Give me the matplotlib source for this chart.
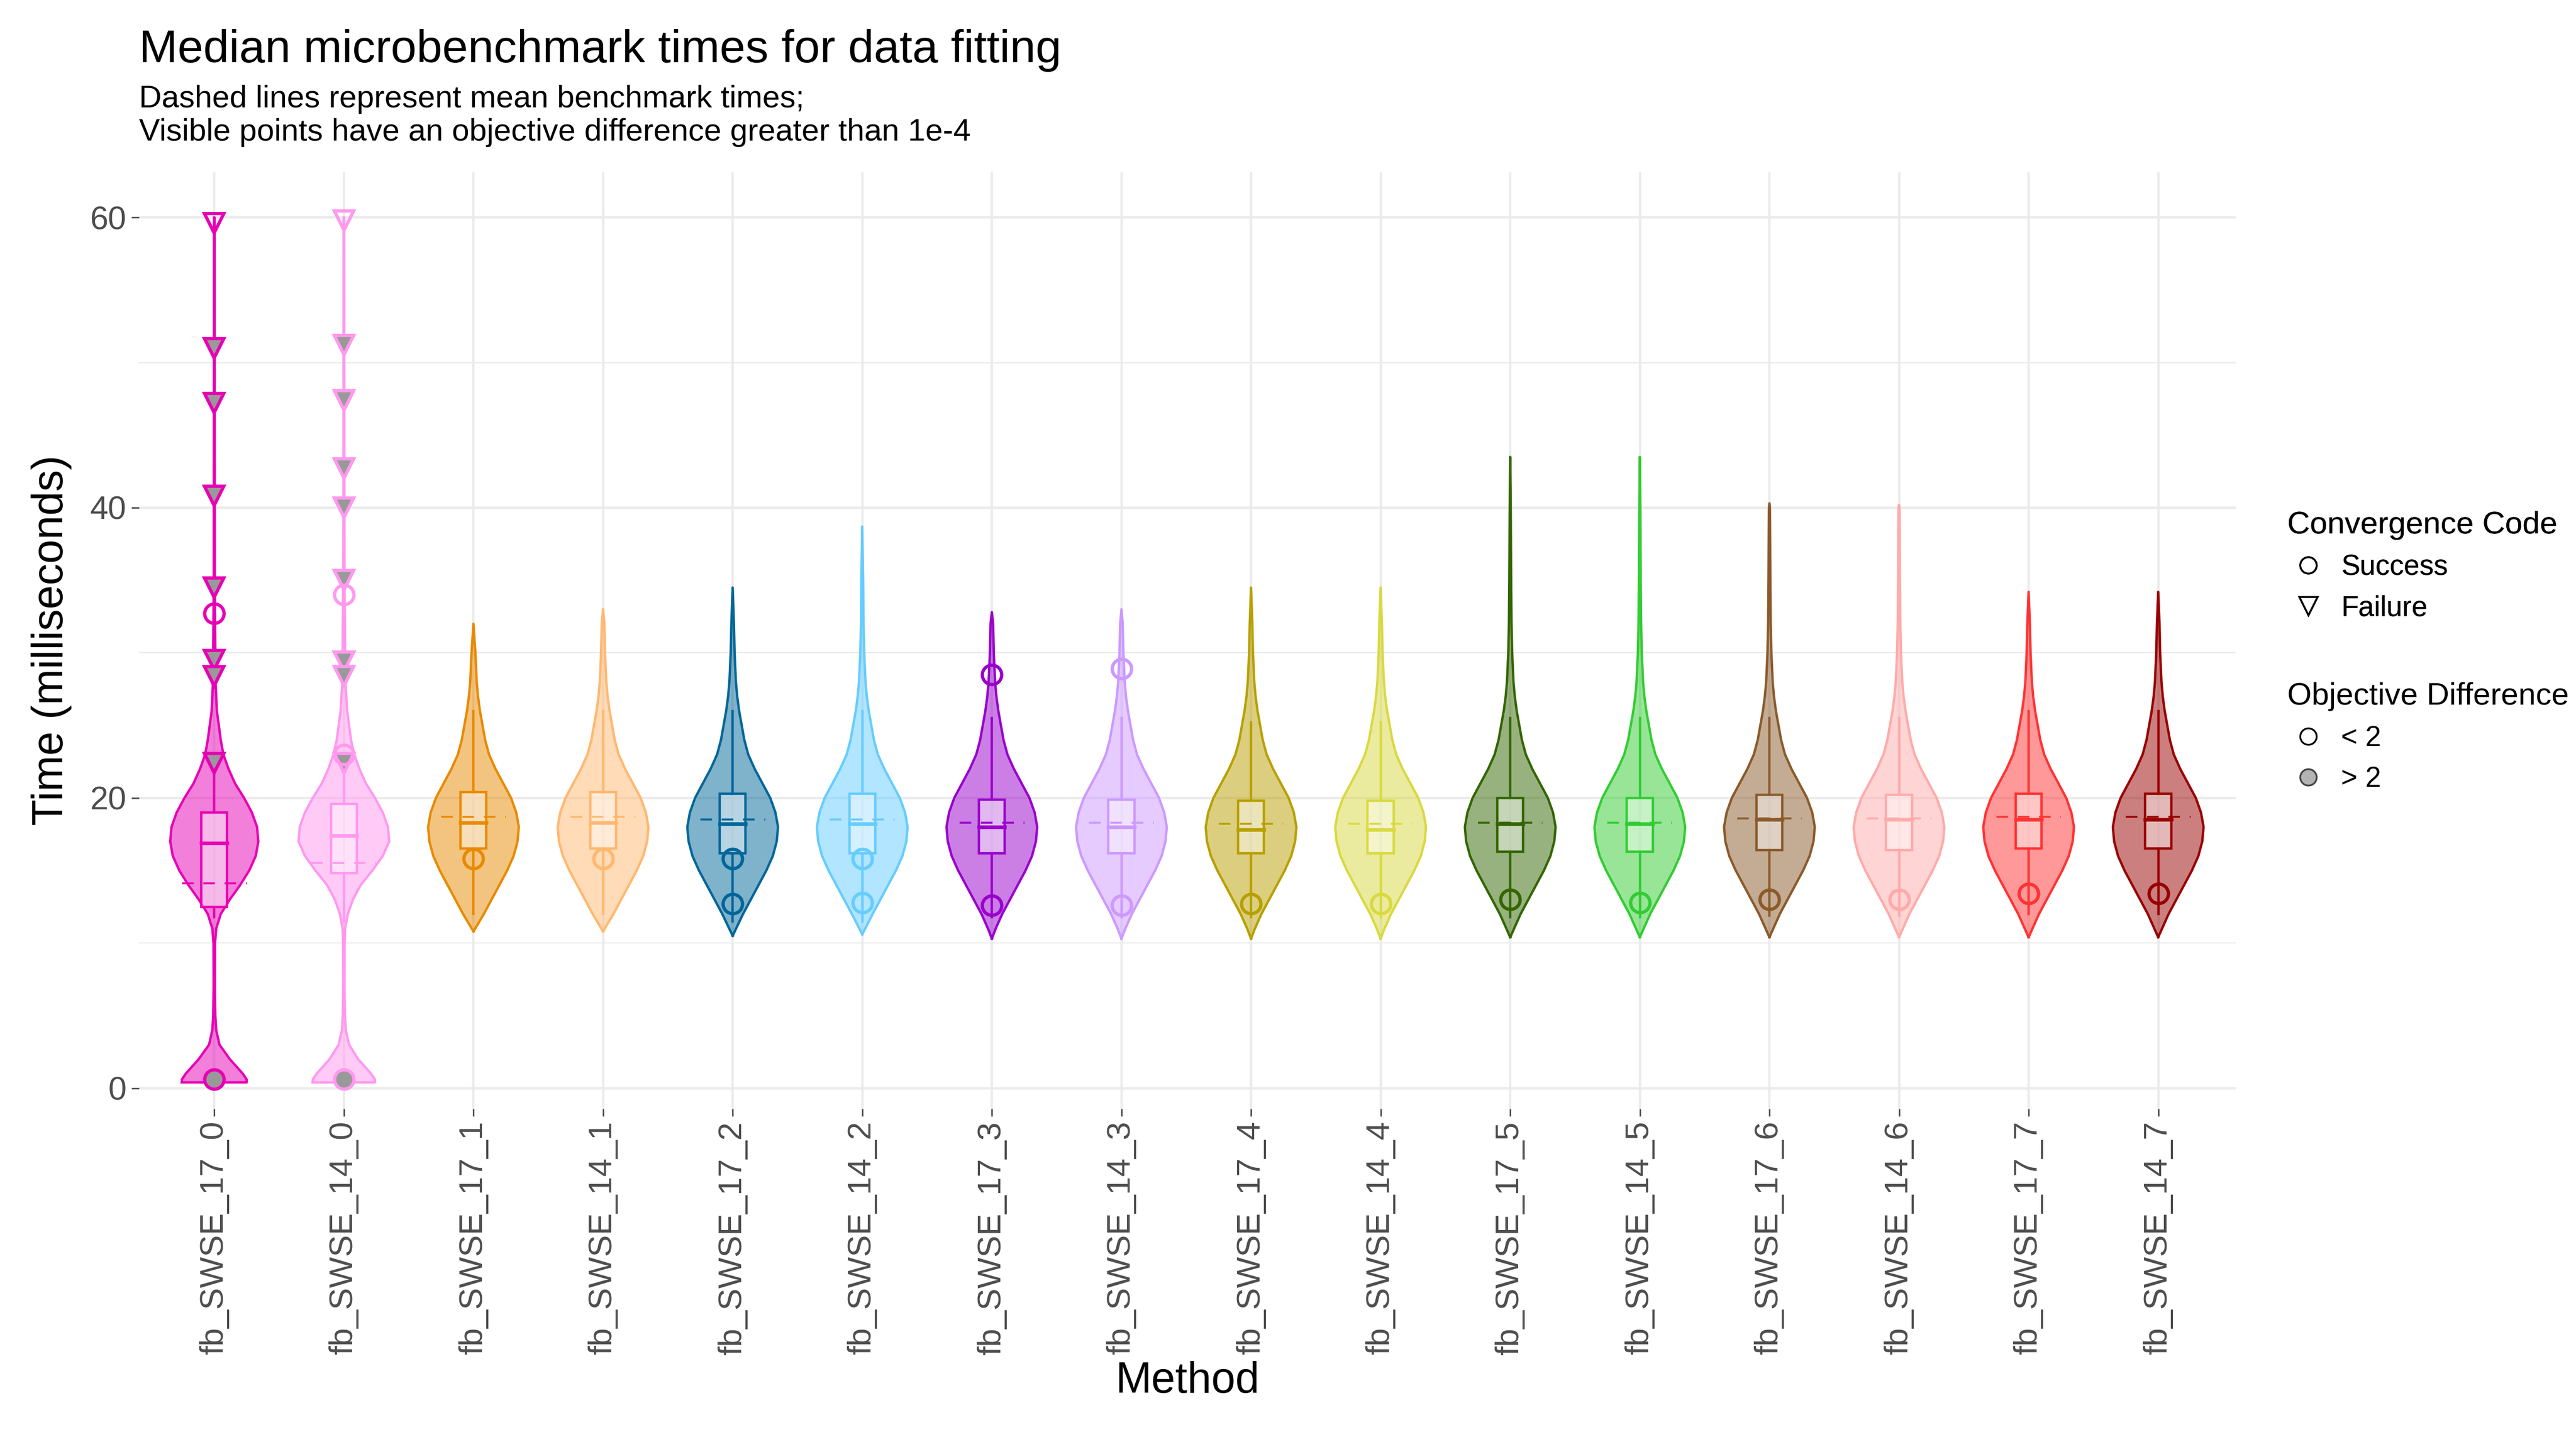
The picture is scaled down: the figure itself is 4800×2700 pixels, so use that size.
import matplotlib
matplotlib.use("Agg")
import matplotlib.pyplot as plt
from matplotlib.lines import Line2D
import numpy as np

plt.rcParams['font.family'] = ['Liberation Sans', 'DejaVu Sans']

methods = ["fb_SWSE_17_0", "fb_SWSE_14_0", "fb_SWSE_17_1", "fb_SWSE_14_1",
           "fb_SWSE_17_2", "fb_SWSE_14_2", "fb_SWSE_17_3", "fb_SWSE_14_3",
           "fb_SWSE_17_4", "fb_SWSE_14_4", "fb_SWSE_17_5", "fb_SWSE_14_5",
           "fb_SWSE_17_6", "fb_SWSE_14_6", "fb_SWSE_17_7", "fb_SWSE_14_7"]
colors = ["#E600B4", "#FF99EE", "#E88A00", "#FFB870", "#006699", "#66CCFF",
          "#9900CC", "#CC99FF", "#B8A000", "#D9D940", "#336600", "#33CC33",
          "#8B5A2B", "#FFAAAA", "#FF3333", "#990000"]
q1 = [12.5, 14.8, 16.5, 16.5, 16.2, 16.2, 16.2, 16.2, 16.2, 16.2, 16.3, 16.3, 16.4, 16.4, 16.5, 16.5]
med = [16.9, 17.4, 18.3, 18.3, 18.2, 18.2, 18.0, 18.0, 17.8, 17.8, 18.2, 18.2, 18.5, 18.5, 18.5, 18.5]
q3 = [19.0, 19.6, 20.4, 20.4, 20.3, 20.3, 19.9, 19.9, 19.8, 19.8, 20.0, 20.0, 20.2, 20.2, 20.3, 20.3]
whisk_lo = [11.8, 11.5, 12.0, 12.0, 11.5, 11.5, 11.8, 11.8, 11.8, 11.8, 11.8, 11.8, 11.9, 11.9, 12.0, 12.0]
whisk_hi = [22.5, 23.0, 26.0, 26.0, 26.0, 26.0, 25.5, 25.5, 25.2, 25.2, 25.5, 25.5, 25.5, 25.5, 26.0, 26.0]
means = [14.1, 15.5, 18.7, 18.7, 18.5, 18.5, 18.3, 18.3, 18.2, 18.2, 18.3, 18.3, 18.6, 18.6, 18.7, 18.7]
vmin = [0.5, 0.6, 10.8, 10.8, 10.5, 10.6, 10.3, 10.3, 10.3, 10.3, 10.4, 10.4, 10.4, 10.4, 10.4, 10.4]
vmax = [60.0, 60.0, 32.0, 33.0, 34.5, 38.7, 32.8, 33.0, 34.5, 34.5, 43.5, 43.5, 40.3, 40.2, 34.2, 34.2]

# violin half-width profiles (time, half-width in category units)
prof_t_fail = [0.4, 0.6, 1, 2, 3, 4, 5, 7, 10, 11, 12, 13, 14, 15, 16, 17, 18, 19, 20,
               21, 22, 23, 24, 26, 28, 35, 45, 60]
prof_w_17_0 = [0.25, 0.25, 0.22, 0.12, 0.04, 0.015, 0.008, 0.005, 0.006, 0.015, 0.05, 0.12, 0.2,
               0.27, 0.32, 0.34, 0.33, 0.29, 0.23, 0.16, 0.11, 0.07, 0.05, 0.02, 0.01, 0.004, 0.003, 0.002]
prof_w_14_0 = [0.24, 0.24, 0.21, 0.11, 0.04, 0.015, 0.008, 0.005, 0.006, 0.01, 0.03, 0.07, 0.13,
               0.22, 0.30, 0.35, 0.34, 0.30, 0.24, 0.17, 0.12, 0.08, 0.055, 0.025, 0.012, 0.005, 0.003, 0.002]
prof_t = [10.3, 11, 12, 13, 14, 15, 16, 17, 18, 19, 20, 21, 22, 23, 24, 25, 26, 27, 28, 30, 32, 35, 40, 43.5]
prof_w = [0.0, 0.03, 0.08, 0.14, 0.2, 0.26, 0.31, 0.34, 0.35, 0.33, 0.29, 0.23, 0.17, 0.12,
          0.09, 0.07, 0.05, 0.035, 0.025, 0.015, 0.01, 0.007, 0.004, 0.0]

# points: (method index, time, shape, objective>2)
pt_idx = [0, 0, 0, 0, 0, 0, 0, 0, 0, 0,
          1, 1, 1, 1, 1, 1, 1, 1, 1, 1, 1, 1,
          2, 3, 4, 4, 5, 5, 6, 6, 7, 7, 8, 9, 10, 11, 12, 13, 14, 15]
pt_time = [59.6, 51.0, 47.2, 40.8, 34.5, 29.5, 28.4, 22.4, 32.7, 0.6,
           59.8, 51.2, 47.4, 42.7, 40.0, 35.0, 29.4, 28.4, 22.4, 34.0, 23.0, 0.6,
           15.8, 15.8, 15.8, 12.7, 15.8, 12.8, 28.5, 12.6, 28.9, 12.6, 12.7, 12.7,
           13.0, 12.8, 13.0, 13.0, 13.4, 13.4]
pt_shape = ["v"] * 8 + ["o", "o"] + ["v"] * 9 + ["o", "o", "o"] + ["o"] * 18
pt_big = [False, True, True, True, True, True, True, True, False, True,
          False, True, True, True, True, True, True, True, True, False, False, True] + [False] * 18

fig = plt.figure(figsize=(24, 13.5), dpi=200)
ax = fig.add_axes([0.054, 0.235, 0.814, 0.646])
ax.set_xlim(-0.58, 15.6)
ax.set_ylim(-1.4, 63.1)
for s in ax.spines.values():
    s.set_visible(False)
ax.set_yticks([0, 20, 40, 60])
ax.set_yticks([10, 30, 50], minor=True)
ax.set_xticks(range(len(methods)))
ax.set_xticklabels(methods, rotation=90, fontsize=22, color="#4D4D4D")
ax.tick_params(axis='y', labelsize=22, labelcolor="#4D4D4D", color="#4D4D4D", length=5, width=1)
ax.tick_params(axis='y', which='minor', length=0)
ax.tick_params(axis='x', color="#4D4D4D", length=5, width=1)
ax.grid(True, which='major', color="#EBEBEB", lw=1.6)
ax.grid(True, which='minor', axis='y', color="#EBEBEB", lw=0.8)
ax.set_axisbelow(True)

for i, c in enumerate(colors):
    if i == 0:
        t, w = np.array(prof_t_fail), np.array(prof_w_17_0)
    elif i == 1:
        t, w = np.array(prof_t_fail), np.array(prof_w_14_0)
    else:
        t, w = np.array(prof_t), np.array(prof_w)
        keep = (t >= vmin[i]) & (t < vmax[i])
        t = np.concatenate([[vmin[i]], t[keep][1:], [vmax[i]]])
        w = np.concatenate([[0.0], np.array(prof_w)[keep][1:], [0.0]])
    ax.fill_betweenx(t, i - w, i + w, facecolor=c, alpha=0.5, edgecolor="none", zorder=2)
    ax.plot(np.concatenate([i - w, (i + w)[::-1], [i - w[0]]]),
            np.concatenate([t, t[::-1], [t[0]]]), color=c, lw=1.6, zorder=3)
    ax.plot([i, i], [whisk_lo[i], q1[i]], color=c, lw=1.6, zorder=4)
    ax.plot([i, i], [q3[i], whisk_hi[i]], color=c, lw=1.6, zorder=4)
    ax.add_patch(plt.Rectangle((i - 0.1, q1[i]), 0.2, q3[i] - q1[i], facecolor="white",
                               alpha=0.45, edgecolor="none", zorder=4))
    ax.add_patch(plt.Rectangle((i - 0.1, q1[i]), 0.2, q3[i] - q1[i], facecolor="none",
                               edgecolor=c, lw=1.6, zorder=5))
    ax.plot([i - 0.1, i + 0.1], [med[i], med[i]], color=c, lw=2.4, zorder=5)
    ax.plot([i - 0.25, i + 0.25], [means[i], means[i]], color=c, lw=1.3,
            ls=(0, (6, 5)), zorder=5)

for k in range(len(pt_idx)):
    i = pt_idx[k]
    ax.plot([i], [pt_time[k]], marker=pt_shape[k], ms=13, mew=2.2,
            mec=colors[i], mfc="#999999" if pt_big[k] else "none", ls="none", zorder=6)

ax.set_ylabel("Time (milliseconds)", fontsize=29, labelpad=12)
ax.set_xlabel("Method", fontsize=29, labelpad=4)

fig.text(0.054, 0.965, "Median microbenchmark times for data fitting", fontsize=31, va="center")
fig.text(0.054, 0.920, "Dashed lines represent mean benchmark times;\nVisible points have an objective difference greater than 1e-4",
         fontsize=21, va="center", linespacing=1.2)

h1 = [Line2D([], [], marker="o", ls="none", mfc="none", mec="black", ms=11, mew=1.2),
      Line2D([], [], marker="v", ls="none", mfc="none", mec="black", ms=12, mew=1.2)]
leg1 = fig.legend(h1, ["Success", "Failure"], title="Convergence Code", loc="upper left",
                  bbox_to_anchor=(0.878, 0.665), frameon=False, fontsize=19,
                  title_fontsize=21, alignment="left", handletextpad=0.4, handlelength=1.5)
h2 = [Line2D([], [], marker="o", ls="none", mfc="none", mec="black", ms=11, mew=1.2),
      Line2D([], [], marker="o", ls="none", mfc="#B3B3B3", mec="#444444", ms=11, mew=1.2)]
leg2 = fig.legend(h2, ["< 2", "> 2"], title="Objective Difference", loc="upper left",
                  bbox_to_anchor=(0.878, 0.547), frameon=False, fontsize=19,
                  title_fontsize=21, alignment="left", handletextpad=0.4, handlelength=1.5)
fig.add_artist(leg1)

fig.savefig("out.png", dpi=200, facecolor="white")
